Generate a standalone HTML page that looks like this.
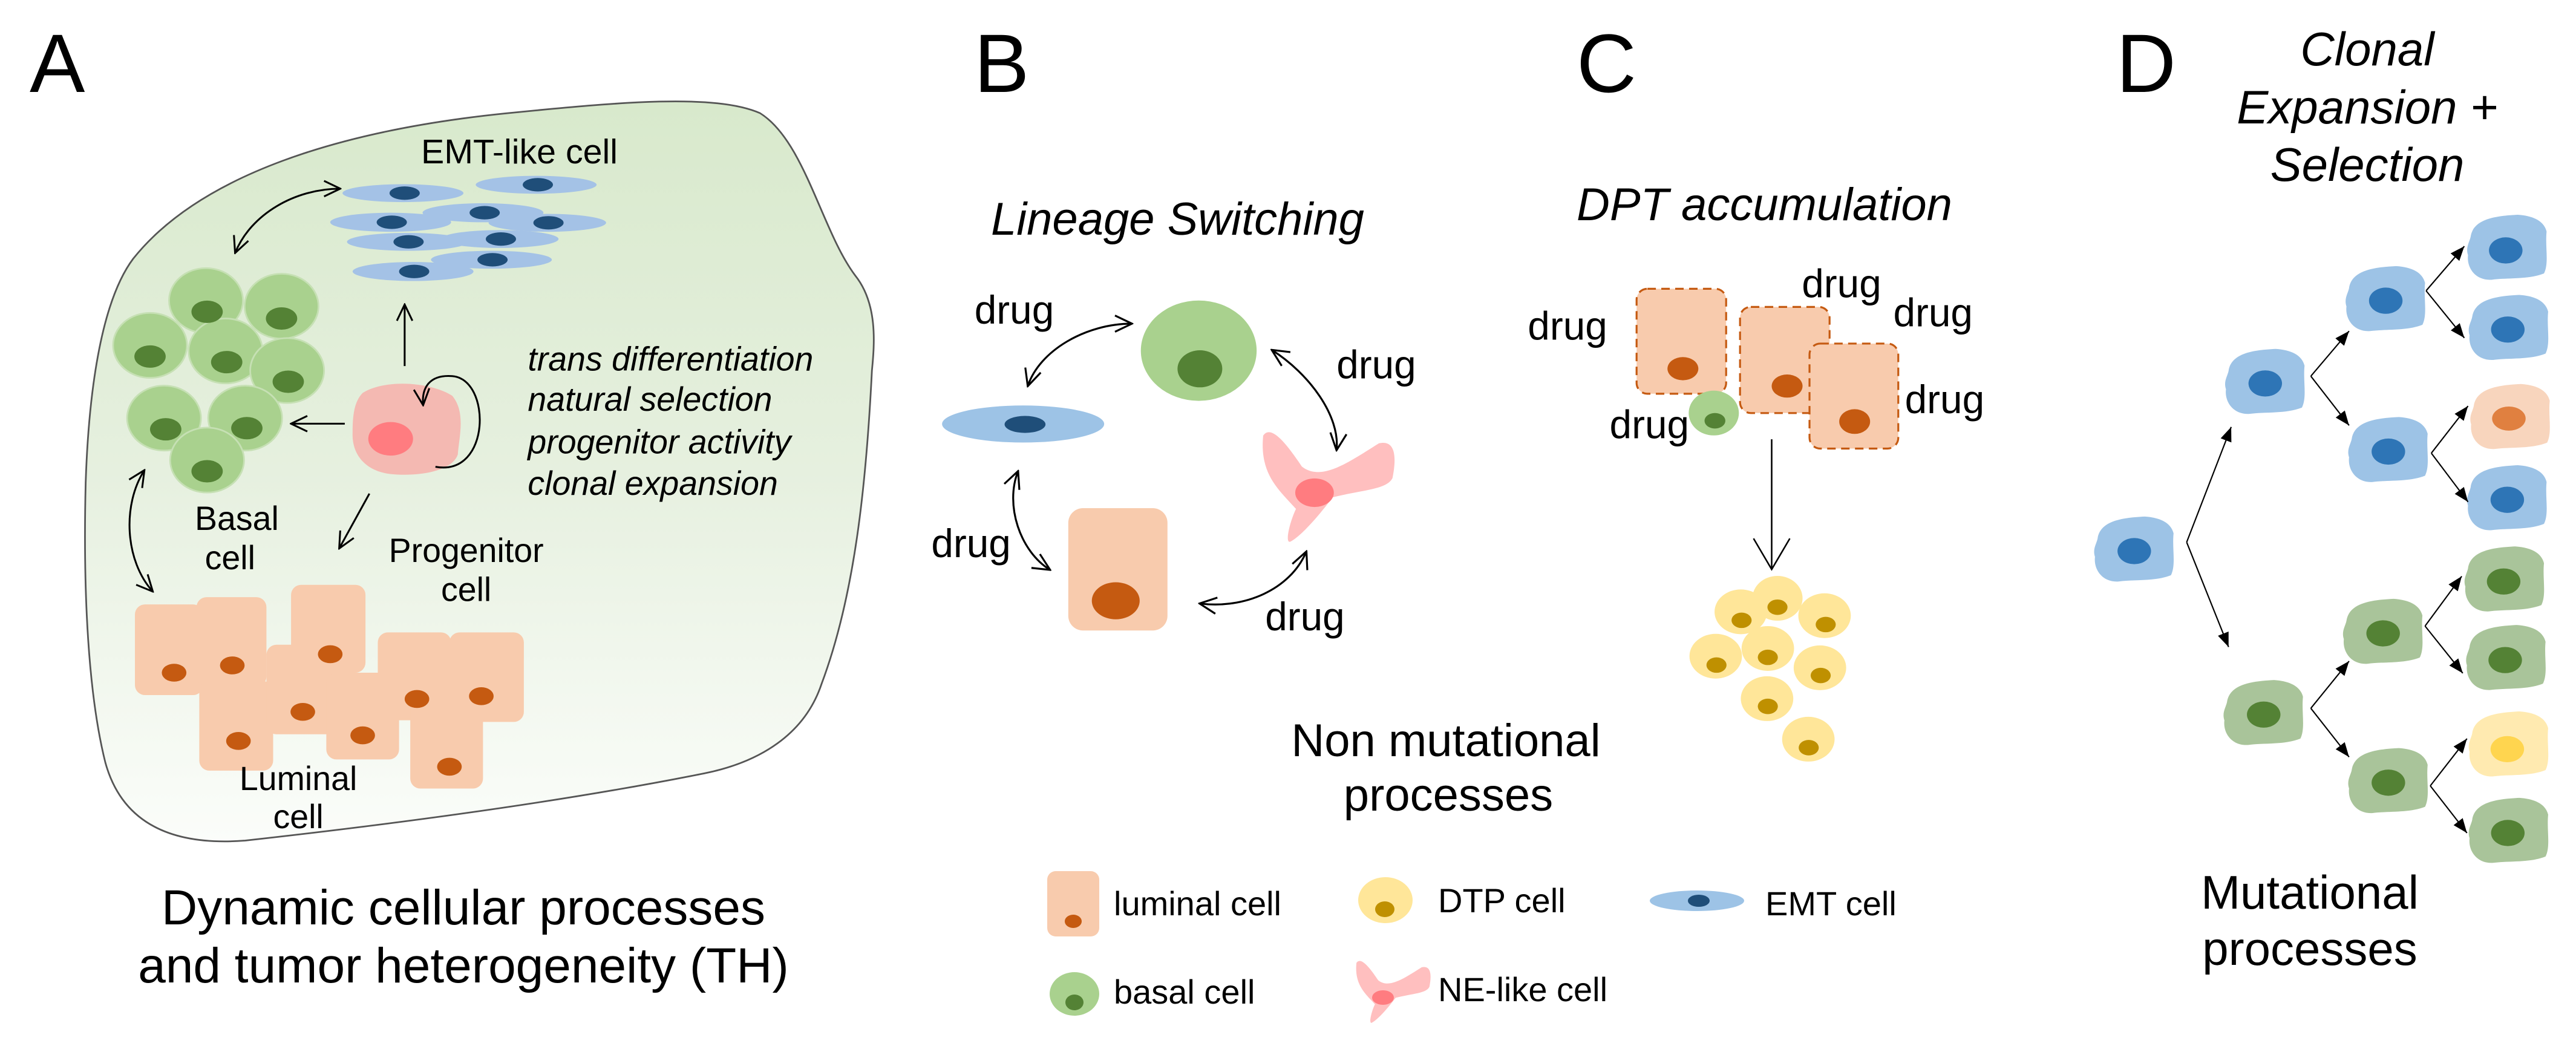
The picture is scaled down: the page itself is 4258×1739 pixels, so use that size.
<!DOCTYPE html>
<html><head><meta charset="utf-8"><style>
html,body{margin:0;padding:0;background:#fff;}
svg{display:block;}
text{font-family:"Liberation Sans",Arial,sans-serif;fill:#000;}
.it{font-style:italic;}
</style></head><body>
<svg width="4258" height="1739" viewBox="0 0 4258 1739" xmlns="http://www.w3.org/2000/svg">
<defs>
<linearGradient id="bg" x1="0" y1="0" x2="0" y2="1">
<stop offset="0" stop-color="#d8e9cc"/><stop offset="0.5" stop-color="#e6f0df"/><stop offset="1" stop-color="#fbfdfa"/>
</linearGradient>
<marker id="oa" viewBox="0 0 10 10" refX="9.3" refY="5" markerWidth="10" markerHeight="10" orient="auto-start-reverse">
<path d="M0.5,0.8 L9.3,5 L0.5,9.2" fill="none" stroke="#000" stroke-width="1"/>
</marker>
<marker id="fa" viewBox="0 0 10 10" refX="10" refY="5" markerWidth="11" markerHeight="11" orient="auto">
<path d="M0,1 L10,5 L0,9 z" fill="#000"/>
</marker>
<path id="ne" d="M-133,-148 C-113,-178 -73,-128 -33,-68 C17,-28 87,-78 167,-128 C212,-138 212,-88 202,-38 C187,-8 127,-8 47,12 C17,52 -33,112 -63,127 C-78,132 -63,72 -48,42 C-93,-8 -143,-48 -133,-148Z"/>
<path id="cb" d="M-70,-20 C-65,-55 -20,-60 20,-62 C50,-60 70,-50 75,-30 C72,0 80,30 70,50 C40,62 0,58 -30,62 C-60,64 -78,40 -75,15 C-80,0 -72,-10 -70,-20Z"/>
</defs>

<!-- panel letters -->
<text x="49" y="152" font-size="137">A</text>
<text x="1610" y="152" font-size="137">B</text>
<text x="2606" y="152" font-size="137">C</text>
<text x="3498" y="152" font-size="137">D</text>

<!-- ============ PANEL A ============ -->
<g transform="translate(100,150) scale(0.925)">
<path d="M130,300 C250,150 500,70 800,40 C1000,20 1170,5 1250,40 C1330,90 1360,250 1420,330 C1460,380 1455,450 1450,500 C1440,700 1420,900 1360,1060 C1330,1150 1250,1200 1150,1220 C900,1270 600,1310 330,1340 C200,1350 110,1310 80,1200 C50,1080 40,900 45,700 C50,550 70,380 130,300 Z" fill="url(#bg)" stroke="#555" stroke-width="3"/>
<text x="820" y="130" font-size="62" text-anchor="middle">EMT-like cell</text>
<g fill="#a4c2e6">
<ellipse cx="612" cy="183" rx="108" ry="16"/><ellipse cx="850" cy="168" rx="108" ry="16"/>
<ellipse cx="590" cy="235" rx="108" ry="17"/><ellipse cx="755" cy="218" rx="108" ry="17"/>
<ellipse cx="870" cy="236" rx="105" ry="16"/><ellipse cx="620" cy="270" rx="108" ry="16"/>
<ellipse cx="785" cy="265" rx="105" ry="16"/><ellipse cx="630" cy="323" rx="108" ry="17"/>
<ellipse cx="770" cy="302" rx="108" ry="16"/>
</g>
<g fill="#1f4e79">
<ellipse cx="615" cy="183" rx="27" ry="12"/><ellipse cx="853" cy="168" rx="27" ry="12"/>
<ellipse cx="592" cy="235" rx="27" ry="12"/><ellipse cx="758" cy="218" rx="27" ry="12"/>
<ellipse cx="872" cy="236" rx="27" ry="12"/><ellipse cx="622" cy="270" rx="27" ry="12"/>
<ellipse cx="787" cy="265" rx="27" ry="12"/><ellipse cx="632" cy="323" rx="27" ry="12"/>
<ellipse cx="772" cy="302" rx="27" ry="12"/>
</g>
<g fill="#a9d18e" stroke="#c6e0b4" stroke-width="3">
<ellipse cx="260" cy="375" rx="66" ry="58"/><ellipse cx="395" cy="385" rx="66" ry="58"/>
<ellipse cx="160" cy="455" rx="66" ry="58"/><ellipse cx="295" cy="465" rx="66" ry="58"/>
<ellipse cx="405" cy="500" rx="66" ry="58"/><ellipse cx="185" cy="585" rx="66" ry="58"/>
<ellipse cx="330" cy="585" rx="66" ry="58"/><ellipse cx="262" cy="660" rx="66" ry="58"/>
</g>
<g fill="#548235">
<ellipse cx="262" cy="395" rx="28" ry="20"/><ellipse cx="395" cy="407" rx="28" ry="20"/>
<ellipse cx="160" cy="475" rx="28" ry="20"/><ellipse cx="297" cy="485" rx="28" ry="20"/>
<ellipse cx="407" cy="520" rx="28" ry="20"/><ellipse cx="188" cy="605" rx="28" ry="20"/>
<ellipse cx="333" cy="603" rx="28" ry="20"/><ellipse cx="262" cy="680" rx="28" ry="20"/>
</g>
<path d="M540,540 C580,515 660,520 700,545 C725,575 712,620 710,650 C700,680 640,690 590,685 C545,680 520,650 522,610 C522,580 525,555 540,540Z" fill="#f4b9b2"/>
<ellipse cx="590" cy="622" rx="40" ry="30" fill="#ff7c80"/>
<g fill="none" stroke="#000" stroke-width="3.3">
<path d="M312,290 C340,220 420,175 500,175" marker-start="url(#oa)" marker-end="url(#oa)"/>
<path d="M615,492 L615,382" marker-end="url(#oa)"/>
<path d="M508,595 L412,595" marker-end="url(#oa)"/>
<path d="M552,720 L498,818" marker-end="url(#oa)"/>
<path d="M150,678 C110,740 115,840 165,895" marker-start="url(#oa)" marker-end="url(#oa)"/>
<path d="M670,672 C770,690 770,515 700,510 C660,507 645,530 648,562" marker-end="url(#oa)"/>
</g>
<g class="it" font-size="60">
<text x="835" y="500">trans differentiation</text>
<text x="835" y="572">natural selection</text>
<text x="835" y="648">progenitor activity</text>
<text x="835" y="722">clonal expansion</text>
</g>
<g font-size="60" text-anchor="middle">
<text x="315" y="785">Basal</text><text x="303" y="855">cell</text>
<text x="725" y="842">Progenitor</text><text x="725" y="912">cell</text>
</g>
<g fill="#f8cbad">
<rect x="133" y="918" width="122" height="162" rx="18"/>
<rect x="243" y="905" width="125" height="160" rx="18"/>
<rect x="248" y="1055" width="132" height="160" rx="18"/>
<rect x="368" y="990" width="132" height="160" rx="18"/>
<rect x="412" y="883" width="133" height="157" rx="18"/>
<rect x="475" y="1040" width="130" height="155" rx="18"/>
<rect x="567" y="968" width="131" height="157" rx="18"/>
<rect x="695" y="968" width="133" height="160" rx="18"/>
<rect x="625" y="1085" width="130" height="162" rx="18"/>
</g>
<g fill="#c55a11">
<ellipse cx="203" cy="1040" rx="22" ry="16"/><ellipse cx="307" cy="1027" rx="22" ry="16"/>
<ellipse cx="318" cy="1162" rx="22" ry="16"/><ellipse cx="433" cy="1110" rx="22" ry="16"/>
<ellipse cx="482" cy="1007" rx="22" ry="16"/><ellipse cx="540" cy="1152" rx="22" ry="16"/>
<ellipse cx="637" cy="1087" rx="22" ry="16"/><ellipse cx="752" cy="1082" rx="22" ry="16"/>
<ellipse cx="695" cy="1208" rx="22" ry="16"/>
</g>
<g font-size="60" text-anchor="middle">
<text x="425" y="1250">Luminal</text><text x="425" y="1318">cell</text>
</g>
</g>
<text x="766" y="1528" font-size="82" text-anchor="middle">Dynamic cellular processes</text>
<text x="766" y="1624" font-size="82" text-anchor="middle">and tumor heterogeneity (TH)</text>

<!-- ============ PANEL B ============ -->
<text x="1638" y="388" font-size="76" class="it">Lineage Switching</text>
<g transform="translate(1450,350) scale(0.638)">
<ellipse cx="833" cy="360" rx="150" ry="130" fill="#a9d18e"/>
<ellipse cx="836" cy="407" rx="58" ry="48" fill="#548235"/>
<ellipse cx="378" cy="550" rx="210" ry="48" fill="#9dc3e6"/>
<ellipse cx="383" cy="551" rx="53" ry="22" fill="#1f4e79"/>
<rect x="495" y="768" width="257" height="317" rx="38" fill="#f8cbad"/>
<ellipse cx="618" cy="1008" rx="62" ry="48" fill="#c55a11"/>
<use href="#ne" transform="translate(1133,728)" fill="#ffbfbf"/>
<ellipse cx="1133" cy="728" rx="50" ry="37" fill="#ff7c80"/>
<g fill="none" stroke="#000" stroke-width="5">
<path d="M390,452 C420,360 540,290 660,290" marker-start="url(#oa)" marker-end="url(#oa)"/>
<path d="M1022,358 C1120,420 1200,530 1190,618" marker-start="url(#oa)" marker-end="url(#oa)"/>
<path d="M365,672 C330,760 370,880 448,928" marker-start="url(#oa)" marker-end="url(#oa)"/>
<path d="M835,1015 C950,1030 1070,980 1112,880" marker-start="url(#oa)" marker-end="url(#oa)"/>
</g>
<g font-size="103">
<text x="252" y="290">drug</text>
<text x="1190" y="432">drug</text>
<text x="140" y="895">drug</text>
<text x="1005" y="1085">drug</text>
</g>
</g>
<text x="2390" y="1250" font-size="76" text-anchor="middle">Non mutational</text>
<text x="2394" y="1340" font-size="76" text-anchor="middle">processes</text>

<!-- legend -->
<rect x="1731" y="1440" width="86" height="108" rx="14" fill="#f8cbad"/>
<ellipse cx="1774" cy="1523" rx="14" ry="11" fill="#c55a11"/>
<text x="1841" y="1513" font-size="56">luminal cell</text>
<ellipse cx="2290" cy="1488" rx="45" ry="38" fill="#ffe699"/>
<ellipse cx="2289" cy="1503" rx="16" ry="13" fill="#bf9000"/>
<text x="2377" y="1508" font-size="56">DTP cell</text>
<ellipse cx="2805" cy="1489" rx="78" ry="17" fill="#9dc3e6"/>
<ellipse cx="2808" cy="1489" rx="18" ry="10" fill="#1f4e79"/>
<text x="2918" y="1513" font-size="56">EMT cell</text>
<ellipse cx="1776" cy="1643" rx="41" ry="36" fill="#a9d18e"/>
<ellipse cx="1776" cy="1657" rx="15" ry="13" fill="#548235"/>
<text x="1841" y="1659" font-size="56">basal cell</text>
<use href="#ne" transform="translate(2290,1645) scale(0.36)" fill="#ffbfbf"/>
<ellipse cx="2286" cy="1649" rx="18" ry="12" fill="#ff7c80"/>
<text x="2377" y="1655" font-size="56">NE-like cell</text>

<!-- ============ PANEL C ============ -->
<text x="2606" y="364" font-size="76" class="it">DPT accumulation</text>
<g transform="translate(2450,300) scale(0.638)">
<g fill="#f8cbad" stroke="#c55a11" stroke-width="5" stroke-dasharray="22 14">
<rect x="400" y="278" width="232" height="272" rx="28"/>
<rect x="668" y="325" width="232" height="275" rx="28"/>
<rect x="848" y="420" width="230" height="272" rx="28"/>
</g>
<g fill="#c55a11">
<ellipse cx="520" cy="485" rx="40" ry="30"/>
<ellipse cx="790" cy="530" rx="40" ry="30"/>
<ellipse cx="965" cy="622" rx="40" ry="32"/>
</g>
<ellipse cx="600" cy="600" rx="65" ry="58" fill="#a9d18e"/>
<ellipse cx="603" cy="620" rx="27" ry="20" fill="#548235"/>
<g font-size="103">
<text x="118" y="410">drug</text>
<text x="330" y="665">drug</text>
<text x="828" y="300">drug</text>
<text x="1065" y="375">drug</text>
<text x="1095" y="600">drug</text>
</g>
<line x1="750" y1="668" x2="750" y2="1003" stroke="#000" stroke-width="4"/>
<polyline points="703,925 750,1005 797,925" fill="none" stroke="#000" stroke-width="4"/>
<g fill="#ffe699">
<ellipse cx="670" cy="1115" rx="68" ry="58"/>
<ellipse cx="765" cy="1080" rx="65" ry="58"/>
<ellipse cx="887" cy="1125" rx="68" ry="58"/>
<ellipse cx="605" cy="1230" rx="68" ry="58"/>
<ellipse cx="740" cy="1210" rx="68" ry="58"/>
<ellipse cx="875" cy="1260" rx="68" ry="58"/>
<ellipse cx="738" cy="1340" rx="68" ry="58"/>
<ellipse cx="845" cy="1445" rx="68" ry="58"/>
</g>
<g fill="#bf9000">
<ellipse cx="672" cy="1137" rx="26" ry="20"/><ellipse cx="765" cy="1103" rx="26" ry="20"/>
<ellipse cx="890" cy="1148" rx="26" ry="20"/><ellipse cx="607" cy="1253" rx="26" ry="20"/>
<ellipse cx="740" cy="1233" rx="26" ry="20"/><ellipse cx="877" cy="1280" rx="26" ry="20"/>
<ellipse cx="740" cy="1360" rx="26" ry="20"/><ellipse cx="846" cy="1467" rx="26" ry="20"/>
</g>
</g>

<!-- ============ PANEL D ============ -->
<g class="it" font-size="78" text-anchor="middle">
<text x="3913" y="108">Clonal</text>
<text x="3913" y="204">Expansion +</text>
<text x="3913" y="299">Selection</text>
</g>
<g transform="translate(2900,0) scale(0.866)">
<g fill="#9dc3e6">
<use href="#cb" transform="translate(725,1048)"/>
<use href="#cb" transform="translate(975,728)"/>
<use href="#cb" transform="translate(1205,570)"/>
<use href="#cb" transform="translate(1210,858)"/>
<use href="#cb" transform="translate(1437,472)"/>
<use href="#cb" transform="translate(1440,625)"/>
<use href="#cb" transform="translate(1437,950)"/>
</g>
<use href="#cb" transform="translate(1443,795)" fill="#f8d5bd"/>
<use href="#cb" transform="translate(1440,1420)" fill="#ffeab0"/>
<g fill="#a9c49a">
<use href="#cb" transform="translate(972,1360)"/>
<use href="#cb" transform="translate(1200,1205)"/>
<use href="#cb" transform="translate(1210,1490)"/>
<use href="#cb" transform="translate(1432,1105)"/>
<use href="#cb" transform="translate(1435,1255)"/>
<use href="#cb" transform="translate(1440,1585)"/>
</g>
<g fill="#2e75b6">
<ellipse cx="725" cy="1052" rx="32" ry="25"/><ellipse cx="975" cy="732" rx="32" ry="25"/>
<ellipse cx="1205" cy="574" rx="32" ry="25"/><ellipse cx="1210" cy="862" rx="32" ry="25"/>
<ellipse cx="1434" cy="478" rx="32" ry="25"/><ellipse cx="1438" cy="629" rx="32" ry="25"/>
<ellipse cx="1437" cy="954" rx="32" ry="25"/>
</g>
<ellipse cx="1440" cy="799" rx="32" ry="23" fill="#e08040"/>
<ellipse cx="1437" cy="1430" rx="32" ry="25" fill="#ffd54f"/>
<g fill="#548235">
<ellipse cx="972" cy="1364" rx="32" ry="25"/><ellipse cx="1200" cy="1209" rx="32" ry="25"/>
<ellipse cx="1210" cy="1494" rx="32" ry="25"/><ellipse cx="1430" cy="1110" rx="32" ry="25"/>
<ellipse cx="1433" cy="1260" rx="32" ry="25"/><ellipse cx="1438" cy="1590" rx="32" ry="25"/>
</g>
<g fill="none" stroke="#000" stroke-width="2.5">
<path d="M825,1035 L910,815" marker-end="url(#fa)"/>
<path d="M825,1035 L905,1235" marker-end="url(#fa)"/>
<path d="M1062,718 L1135,632" marker-end="url(#fa)"/>
<path d="M1062,718 L1135,812" marker-end="url(#fa)"/>
<path d="M1282,555 L1355,470" marker-end="url(#fa)"/>
<path d="M1282,555 L1355,645" marker-end="url(#fa)"/>
<path d="M1292,865 L1362,775" marker-end="url(#fa)"/>
<path d="M1292,865 L1362,958" marker-end="url(#fa)"/>
<path d="M1062,1352 L1135,1262" marker-end="url(#fa)"/>
<path d="M1062,1352 L1135,1445" marker-end="url(#fa)"/>
<path d="M1280,1195 L1350,1100" marker-end="url(#fa)"/>
<path d="M1280,1195 L1352,1285" marker-end="url(#fa)"/>
<path d="M1290,1500 L1360,1410" marker-end="url(#fa)"/>
<path d="M1290,1500 L1360,1590" marker-end="url(#fa)"/>
</g>
</g>
<text x="3818" y="1502" font-size="78" text-anchor="middle">Mutational</text>
<text x="3818" y="1595" font-size="78" text-anchor="middle">processes</text>
</svg>
</body></html>
